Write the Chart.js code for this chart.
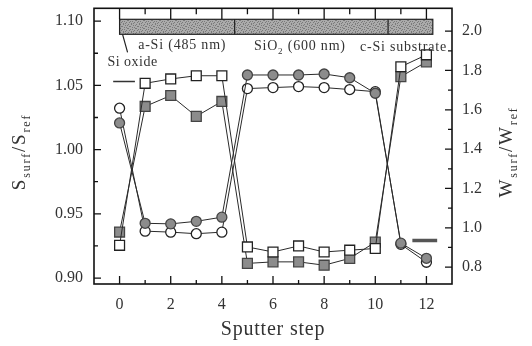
<!DOCTYPE html>
<html><head><meta charset="utf-8">
<script src="https://cdn.jsdelivr.net/npm/chart.js@4/dist/chart.umd.min.js"></script>
<style>html,body{margin:0;padding:0;background:#fff}#wrap{width:532px;height:346px}</style>
</head><body><div id="wrap"><canvas id="c" width="532" height="346"></canvas></div>
<script>
// ---- data ----
const steps = [0,1,2,3,4,5,6,7,8,9,10,11,12];
const sOpenSquare   = [0.9255,1.0516,1.0550,1.0575,1.0575,0.9242,0.9203,0.9250,0.9203,0.9217,0.9230,1.0645,1.0738];
const sFilledSquare = [0.9358,1.0336,1.0421,1.0259,1.0375,0.9114,0.9126,0.9126,0.9100,0.9153,0.9280,1.0568,1.0683];
const wFilledCircle = [1.533,1.023,1.020,1.033,1.054,1.777,1.777,1.777,1.782,1.763,1.684,0.922,0.845];
const wOpenCircle   = [1.608,0.983,0.978,0.970,0.978,1.708,1.713,1.718,1.713,1.703,1.692,0.916,0.825];
const leftTicks  = [0.90,0.95,1.00,1.05,1.10];
const rightTicks = [0.8,1.0,1.2,1.4,1.6,1.8,2.0];
const xTicks     = [0,2,4,6,8,10,12];
const layerNames = ["a-Si (485 nm)", "SiO2 (600 nm)", "c-Si substrate"];
const layerEdges = [0, 4.5, 10.5, 12.25];
const layerLabelX = [2.45, 7.05, 11.1];
const oxideLabel = "Si oxide";
const sRefMarkX = [-0.25, 0.6], sRefMarkY = 1.053;
const wRefMarkX = [11.45, 12.42], wRefMarkY = 0.936;

const pts = arr => steps.map((s,i)=>({x:s,y:arr[i]}));
const SERIF = '"Liberation Serif","Times New Roman",serif';

function drawRich(ctx, parts, x, y, size, align, spacing){
  const sub = Math.round(size*0.65);
  ctx.save();
  ctx.textAlign='left'; ctx.textBaseline='alphabetic';
  if ('letterSpacing' in ctx) ctx.letterSpacing = (spacing||0)+'px';
  let total=0;
  const ws = parts.map(([t,s])=>{ctx.font=(s?sub:size)+'px '+SERIF; const w=ctx.measureText(t).width; total+=w; return w;});
  let cx = align==='center' ? x-total/2 : x;
  parts.forEach(([t,s],i)=>{ctx.font=(s?sub:size)+'px '+SERIF; ctx.fillText(t,cx,s?y+size*0.25:y); cx+=ws[i];});
  ctx.restore();
}

// fixed, irregular speckle texture for the layer bar
const speckle = [
  "10010000",
  "00000101",
  "01100000",
  "00001010",
  "10000001",
  "00101000",
  "01000010",
  "00010100"
];

const framePlugin = {
  id:'frame',
  afterDraw(chart){
    const {ctx, chartArea:a, scales} = chart;
    const X=scales.x, YL=scales.y, YR=scales.y2;
    ctx.save();
    // top layer bar
    const bt=a.top+11, bb=a.top+26;
    const xs=layerEdges.map(v=>X.getPixelForValue(v));
    const pc=document.createElement('canvas'); pc.width=8; pc.height=8;
    const pctx=pc.getContext('2d'); pctx.fillStyle='#ababab'; pctx.fillRect(0,0,8,8);
    pctx.fillStyle='#7a7a7a';
    speckle.forEach((row,j)=>row.split('').forEach((v,i)=>{ if(v==='1') pctx.fillRect(i,j,1,1); }));
    ctx.fillStyle=ctx.createPattern(pc,'repeat');
    ctx.fillRect(xs[0],bt,xs[3]-xs[0],bb-bt);
    ctx.strokeStyle='#222'; ctx.lineWidth=1.2;
    ctx.strokeRect(xs[0],bt,xs[3]-xs[0],bb-bt);
    ctx.beginPath();
    ctx.moveTo(xs[1],bt); ctx.lineTo(xs[1],bb);
    ctx.moveTo(xs[2],bt); ctx.lineTo(xs[2],bb);
    // Si oxide leader
    ctx.moveTo(xs[0]+3,bb); ctx.lineTo(xs[0]+8,bb+18);
    ctx.stroke();
    // frame
    ctx.strokeStyle='#111'; ctx.lineWidth=1.6;
    ctx.strokeRect(a.left,a.top,a.right-a.left,a.bottom-a.top);
    ctx.lineWidth=1.3;
    ctx.beginPath();
    for(let s=0;s<=12;s++){
      const px=X.getPixelForValue(s), major=s%2===0;
      ctx.moveTo(px,a.bottom); ctx.lineTo(px,a.bottom-(major?8:4));
      ctx.moveTo(px,a.top); ctx.lineTo(px,a.top+(major?11:6));
    }
    leftTicks.forEach((v,i)=>{
      const py=YL.getPixelForValue(v);
      ctx.moveTo(a.left,py); ctx.lineTo(a.left+7,py);
      if(i<leftTicks.length-1){const pm=YL.getPixelForValue((v+leftTicks[i+1])/2); ctx.moveTo(a.left,pm); ctx.lineTo(a.left+4,pm);}
    });
    rightTicks.forEach((v,i)=>{
      const py=YR.getPixelForValue(v);
      ctx.moveTo(a.right,py); ctx.lineTo(a.right-7,py);
      if(i<rightTicks.length-1){const pm=YR.getPixelForValue((v+rightTicks[i+1])/2); ctx.moveTo(a.right,pm); ctx.lineTo(a.right-4,pm);}
    });
    ctx.stroke();
    // layer labels
    ctx.fillStyle='#333';
    drawRich(ctx,[[layerNames[0],0]],X.getPixelForValue(layerLabelX[0]),a.top+41,14,'center',0.8);
    drawRich(ctx,[["SiO",0],["2",1],[" (600 nm)",0]],X.getPixelForValue(layerLabelX[1]),a.top+42,14,'center',0.8);
    drawRich(ctx,[[layerNames[2],0]],X.getPixelForValue(layerLabelX[2]),a.top+43,14,'center',0.8);
    drawRich(ctx,[[oxideLabel,0]],xs[0]+13,a.top+58,14,'center',0.5);
    // axis titles
    ctx.fillStyle='#333';
    drawRich(ctx,[["Sputter step",0]],(a.left+a.right)/2,335,20,'center',0.8);
    ctx.save(); ctx.translate(25,152); ctx.rotate(-Math.PI/2);
    drawRich(ctx,[["S",0],["surf",1],["/S",0],["ref",1]],0,0,19,'center',1.8);
    ctx.restore();
    ctx.save(); ctx.translate(512,152); ctx.rotate(-Math.PI/2);
    drawRich(ctx,[["W",0],["surf",1],["/W",0],["ref",1]],0,0,19,'center',1.8);
    ctx.restore();
    ctx.restore();
  }
};

const zeroPad = s => { s.paddingTop=0; s.paddingBottom=0; s.paddingLeft=0; s.paddingRight=0; };
const tickFont = {family:SERIF, size:16};
new Chart(document.getElementById('c'),{
  type:'line',
  data:{datasets:[
    {label:'S open',data:pts(sOpenSquare),yAxisID:'y',pointStyle:'rect',pointRadius:7,backgroundColor:'#fff',borderColor:'#2a2a2a',pointBorderColor:'#222',borderWidth:1,pointBorderWidth:1.3},
    {label:'S filled',data:pts(sFilledSquare),yAxisID:'y',pointStyle:'rect',pointRadius:7,backgroundColor:'#8c8c8c',pointBackgroundColor:'#8c8c8c',borderColor:'#2a2a2a',pointBorderColor:'#444',borderWidth:1,pointBorderWidth:1.3},
    {label:'W filled',data:pts(wFilledCircle),yAxisID:'y2',pointStyle:'circle',pointRadius:5,backgroundColor:'#8c8c8c',pointBackgroundColor:'#8c8c8c',borderColor:'#2a2a2a',pointBorderColor:'#444',borderWidth:1,pointBorderWidth:1.3},
    {label:'W open',data:pts(wOpenCircle),yAxisID:'y2',pointStyle:'circle',pointRadius:5,backgroundColor:'#fff',borderColor:'#2a2a2a',pointBorderColor:'#222',borderWidth:1,pointBorderWidth:1.3},
    {label:'S mark',data:sRefMarkX.map(x=>({x,y:sRefMarkY})),yAxisID:'y',pointRadius:0,borderColor:'#333',borderWidth:1.3},
    {label:'W mark',data:wRefMarkX.map(x=>({x,y:wRefMarkY})),yAxisID:'y2',pointRadius:0,borderColor:'#555',borderWidth:3.5}
  ]},
  options:{
    responsive:false, animation:false, devicePixelRatio:1,
    layout:{padding:{top:6,left:0,right:0,bottom:0}},
    plugins:{legend:{display:false},tooltip:{enabled:false}},
    elements:{line:{tension:0}},
    scales:{
      x:{type:'linear',min:-1,max:13,position:'bottom',
        grid:{display:false,drawTicks:false},border:{display:false},
        ticks:{font:tickFont,color:'#333',padding:11,maxRotation:0,callback:v=>String(v)},
        afterBuildTicks:s=>{s.ticks=xTicks.map(v=>({value:v}));},
        afterFit:s=>{s.height=62; zeroPad(s);}},
      y:{type:'linear',position:'left',min:0.89537,max:1.1100,
        grid:{display:false,drawTicks:false},border:{display:false},
        ticks:{font:tickFont,color:'#333',padding:11,callback:v=>v.toFixed(2)},
        afterBuildTicks:s=>{s.ticks=leftTicks.map(v=>({value:v}));},
        afterFit:s=>{s.width=94; zeroPad(s);}},
      y2:{type:'linear',position:'right',min:0.7143,max:2.116,
        grid:{display:false,drawTicks:false},border:{display:false},
        ticks:{font:tickFont,color:'#333',padding:10,callback:v=>v.toFixed(1)},
        afterBuildTicks:s=>{s.ticks=rightTicks.map(v=>({value:v}));},
        afterFit:s=>{s.width=80; zeroPad(s);}}
    }
  },
  plugins:[framePlugin]
});
</script></body></html>
